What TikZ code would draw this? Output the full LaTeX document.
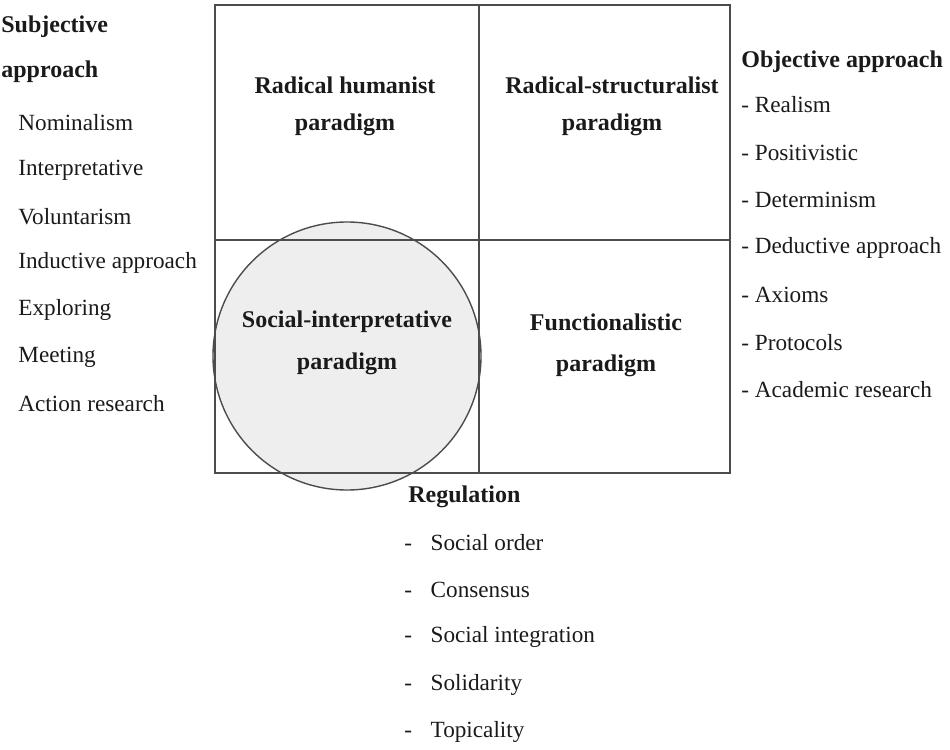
\documentclass[tikz,border=0pt]{standalone}
\usepackage{fontspec}
\setmainfont{Liberation Serif}
\usepackage{xcolor}
\definecolor{inkgray}{HTML}{1A1A1A}
\definecolor{circfill}{HTML}{EEEEEE}
\def\rowgap{47.2}

\begin{document}
\begin{tikzpicture}[x=0.5pt,y=-0.5pt,
    every node/.style={inner sep=0pt, text=inkgray, font=\fontsize{11.6}{14}\selectfont},
    head/.style={font=\fontsize{12}{18.5}\selectfont\bfseries, align=center},
    gridline/.style={draw=black!70, line width=0.7pt}]
  \useasboundingbox (0,0) rectangle (950,750);

  % shaded circle behind the grid
  \draw[fill=circfill, draw=black!70, line width=0.7pt] (347,356) circle[radius=134];

  % four quadrants
  \draw[gridline] (215,5) rectangle (730,473);
  \draw[gridline] (479,5) -- (479,473);
  \draw[gridline] (215,240) -- (730,240);

  \node[head] (radhum) at (345,106) {Radical humanist\\paradigm};
  \node[head] (radstr) at (612,106) {Radical-structuralist\\paradigm};
  \node[head, font=\fontsize{12}{21}\selectfont\bfseries] (socint) at (347,343) {Social-interpretative\\paradigm};
  \node[head, font=\fontsize{12}{20.5}\selectfont\bfseries] (funct) at (606,345) {Functionalistic\\paradigm};

  % subjective side
  \node[head, anchor=west] (subj1) at (1,27) {Subjective};
  \node[head, anchor=west] (subj2) at (1,72) {approach};
  \foreach \t [count=\i] in {Nominalism, Interpretative, Voluntarism, Inductive approach, Exploring, Meeting, Action research}
    \node[anchor=west] (sub\i) at ({18},{123+46.8*(\i-1)}) {\t};

  % objective side
  \node[head, anchor=west] (obj) at (741,62) {Objective approach};
  \foreach \t [count=\i] in {Realism, Positivistic, Determinism, Deductive approach, Axioms, Protocols, Academic research}
    \node[anchor=west] (ob\i) at ({741},{105+47.5*(\i-1)}) {- \t};

  % regulation below
  \node[head, anchor=west] (reg) at (408,497) {Regulation};
  \foreach \t [count=\i] in {Social order, Consensus, Social integration, Solidarity, Topicality}
    \node[anchor=west] (rg\i) at ({404},{543+\rowgap*(\i-1)}) {-\hspace{0.8em}\t};
\end{tikzpicture}
\end{document}
